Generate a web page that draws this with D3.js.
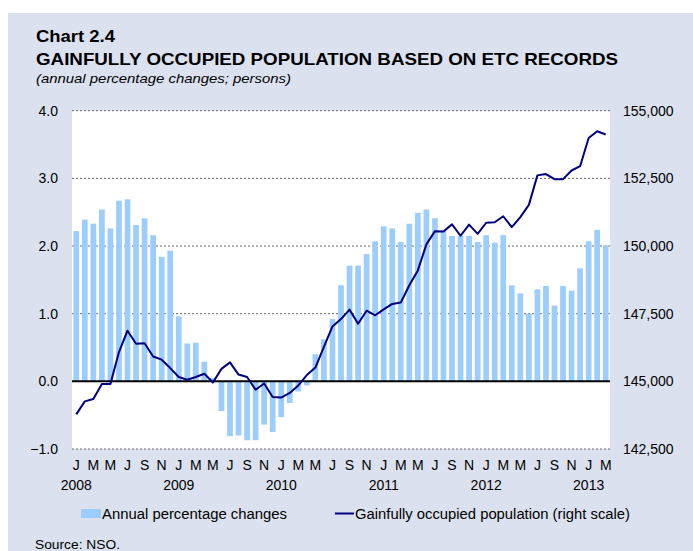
<!DOCTYPE html>
<html>
<head>
<meta charset="utf-8">
<script src="https://cdn.jsdelivr.net/npm/d3@7"></script>
<style>
  html, body { margin: 0; padding: 0; background: #ffffff; }
  svg { display: block; font-family: "Liberation Sans", Arial, sans-serif; }
</style>
</head>
<body>
<svg id="chart" width="693" height="551"></svg>
<script>
// ---- Data (Jan 2008 – Mar 2013, monthly) ----
const monthLetters = ["J","F","M","A","M","J","J","A","S","O","N","D"];
const years = ["2008","2009","2010","2011","2012","2013"];

const pctChange = [
  2.22, 2.39, 2.33, 2.54, 2.26, 2.67, 2.69, 2.31, 2.41, 2.16, 1.84, 1.93,
  0.96, 0.56, 0.57, 0.29, 0.05, -0.44, -0.81, -0.80, -0.87, -0.87, -0.64, -0.75,
  -0.53, -0.32, -0.15, -0.06, 0.40, 0.62, 0.92, 1.42, 1.71, 1.71, 1.88, 2.07,
  2.29, 2.26, 2.06, 2.33, 2.49, 2.54, 2.41, 2.22, 2.15, 2.15, 2.15, 2.06,
  2.16, 2.05, 2.16, 1.42, 1.30, 1.00, 1.36, 1.41, 1.12, 1.41, 1.34, 1.67,
  2.07, 2.24, 2.01
];

const population = [
  143780, 144260, 144350, 144900, 144900, 146080, 146870, 146390, 146410, 145920, 145800, 145490,
  145160, 145060, 145160, 145280, 144960, 145460, 145700, 145250, 145160, 144690, 144920, 144420,
  144400, 144570, 144850, 145230, 145510, 146270, 147030, 147300, 147650, 147130, 147610, 147440,
  147660, 147860, 147910, 148550, 149100, 150060, 150550, 150540, 150800, 150380, 150790, 150450,
  150860, 150880, 151100, 150700, 151070, 151520, 152610, 152660, 152470, 152470, 152790, 152950,
  153990, 154240, 154120
];

const leftTicks = [-1, 0, 1, 2, 3, 4];
const rightTicks = [142500, 145000, 147500, 150000, 152500, 155000];

const titleLines = ["Chart 2.4", "GAINFULLY OCCUPIED POPULATION BASED ON ETC RECORDS"];
const subtitle = "(annual percentage changes; persons)";
const legendLabels = ["Annual percentage changes", "Gainfully occupied population (right scale)"];
const sourceText = "Source: NSO.";

// ---- Layout ----
const svg = d3.select("#chart");
const plot = { left: 72, right: 610, top: 110.7, bottom: 449 };
const bg = "#dbe1ee";
const barColor = "#9ccdfc";
const lineColor = "#000080";
const font = "Liberation Sans, Arial, sans-serif";

svg.append("rect").attr("x", 8).attr("y", 13).attr("width", 685).attr("height", 538).attr("fill", bg);
svg.append("rect").attr("x", plot.left).attr("y", plot.top)
  .attr("width", plot.right - plot.left).attr("height", plot.bottom - plot.top).attr("fill", "#ffffff");

const idx = d3.range(pctChange.length);
const x = d3.scaleBand().domain(idx).range([plot.left, plot.right]).paddingInner(0.33).paddingOuter(0.165);
const yL = d3.scaleLinear().domain([-1, 4]).range([plot.bottom, plot.top]);
const yR = d3.scaleLinear().domain([142500, 155000]).range([plot.bottom, plot.top]);

// gridlines
svg.append("g").selectAll("line").data(leftTicks.filter(d => d !== 0)).join("line")
  .attr("x1", plot.left).attr("x2", plot.right)
  .attr("y1", d => yL(d)).attr("y2", d => yL(d))
  .attr("stroke", "#666").attr("stroke-width", 1).attr("stroke-dasharray", "2,2");

// bars
svg.append("g").selectAll("rect").data(idx).join("rect")
  .attr("x", i => x(i)).attr("width", x.bandwidth())
  .attr("y", i => yL(Math.max(0, pctChange[i])))
  .attr("height", i => Math.abs(yL(pctChange[i]) - yL(0)))
  .attr("fill", barColor);

// zero line
svg.append("line").attr("x1", plot.left).attr("x2", plot.right)
  .attr("y1", yL(0)).attr("y2", yL(0)).attr("stroke", "#000").attr("stroke-width", 2);

// population line
const line = d3.line().x(i => x(i) + x.bandwidth() / 2).y(i => yR(population[i]));
svg.append("path").datum(idx).attr("d", line)
  .attr("fill", "none").attr("stroke", lineColor).attr("stroke-width", 2).attr("stroke-linejoin", "round");

// left axis
const axL = svg.append("g").attr("transform", `translate(${plot.left},0)`)
  .call(d3.axisLeft(yL).tickValues(leftTicks).tickFormat(d3.format(".1f")).tickSize(0).tickPadding(14));
axL.select(".domain").remove();
axL.selectAll("text").attr("font-size", 14).attr("fill", "#000").attr("font-family", font);

// right axis
const axR = svg.append("g").attr("transform", `translate(${plot.right},0)`)
  .call(d3.axisRight(yR).tickValues(rightTicks).tickFormat(d3.format(",")).tickSize(0).tickPadding(13));
axR.select(".domain").remove();
axR.selectAll("text").attr("font-size", 14).attr("fill", "#000").attr("font-family", font);

// bottom axis: month letters
const monthTicks = idx.filter(i => i % 2 === 0);
const axB = svg.append("g").attr("transform", `translate(0,${plot.bottom})`)
  .call(d3.axisBottom(x).tickValues(monthTicks).tickFormat(i => monthLetters[i % 12]).tickSize(0).tickPadding(11));
axB.select(".domain").remove();
axB.selectAll("text").attr("font-size", 14).attr("fill", "#000").attr("font-family", font);

// year labels
svg.append("g").selectAll("text").data(years).join("text")
  .attr("x", (d, k) => x(k * 12) + x.bandwidth() / 2)
  .attr("y", 489.5)
  .attr("text-anchor", "middle").attr("font-size", 14).text(d => d);

// titles
svg.append("text").attr("x", 36).attr("y", 42).attr("font-size", 17).attr("font-weight", "bold")
  .attr("textLength", 79).attr("lengthAdjust", "spacingAndGlyphs").text(titleLines[0]);
svg.append("text").attr("x", 36).attr("y", 65).attr("font-size", 16.5).attr("font-weight", "bold")
  .attr("textLength", 582).attr("lengthAdjust", "spacingAndGlyphs").text(titleLines[1]);
svg.append("text").attr("x", 36).attr("y", 83).attr("font-size", 13).attr("font-style", "italic")
  .attr("textLength", 255).attr("lengthAdjust", "spacingAndGlyphs").text(subtitle);

// legend
svg.append("rect").attr("x", 81).attr("y", 509).attr("width", 20).attr("height", 9).attr("fill", barColor);
svg.append("text").attr("x", 102).attr("y", 518.5).attr("font-size", 14)
  .attr("textLength", 185).attr("lengthAdjust", "spacingAndGlyphs").text(legendLabels[0]);
svg.append("line").attr("x1", 335).attr("x2", 354).attr("y1", 513.5).attr("y2", 513.5)
  .attr("stroke", lineColor).attr("stroke-width", 2);
svg.append("text").attr("x", 355).attr("y", 518.5).attr("font-size", 14)
  .attr("textLength", 275).attr("lengthAdjust", "spacingAndGlyphs").text(legendLabels[1]);

// source
svg.append("text").attr("x", 35).attr("y", 549).attr("font-size", 13)
  .attr("textLength", 85).attr("lengthAdjust", "spacingAndGlyphs").text(sourceText);
</script>
</body>
</html>
